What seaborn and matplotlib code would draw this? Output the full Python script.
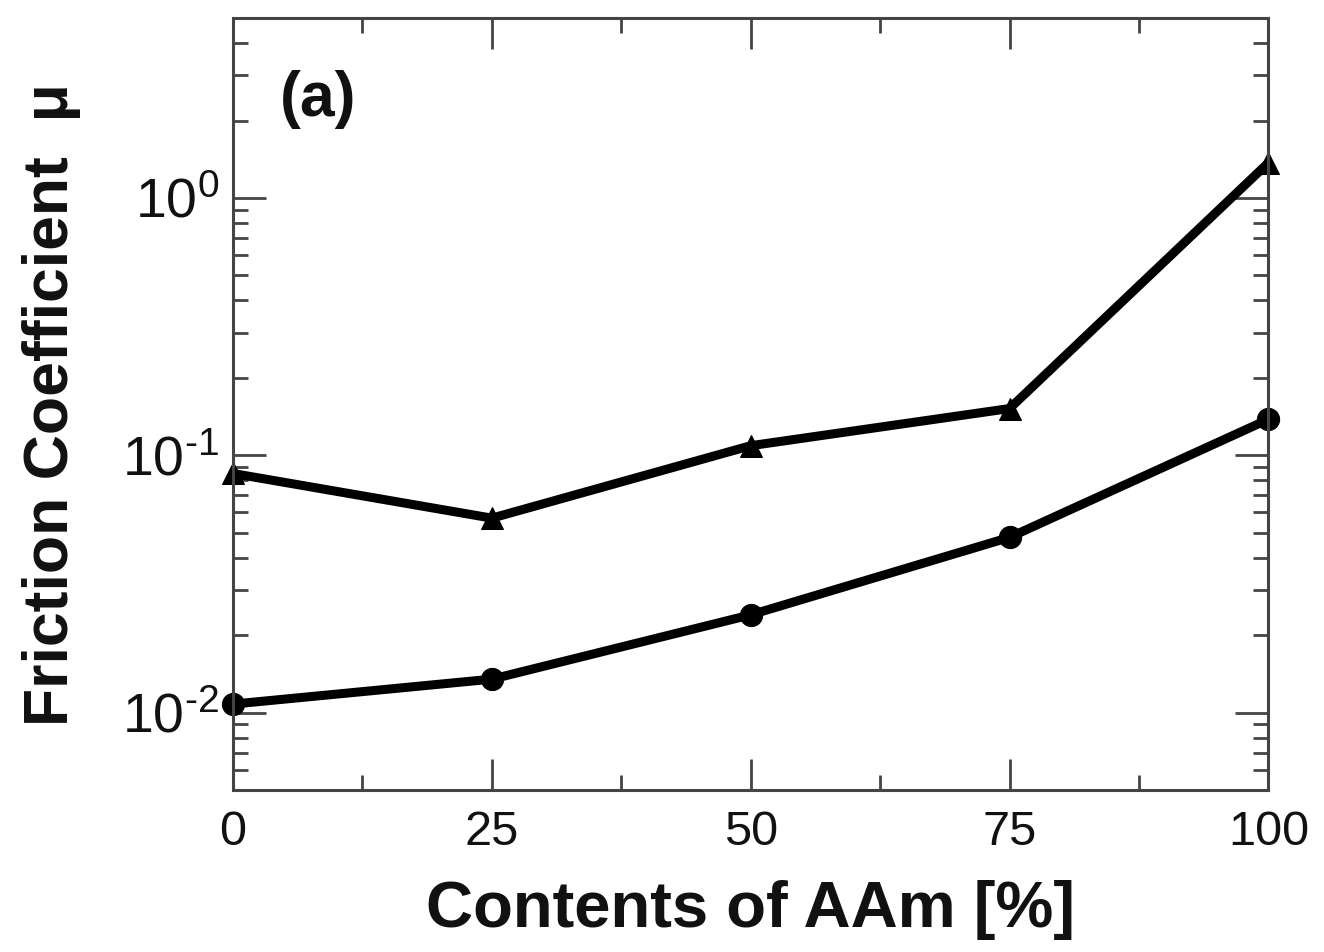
import numpy as np
import pandas as pd
import matplotlib
matplotlib.use("Agg")
import matplotlib.pyplot as plt
import matplotlib.ticker as mticker
import seaborn as sns

contents = [0, 25, 50, 75, 100]
mu_triangle = [0.085, 0.057, 0.109, 0.152, 1.37]
mu_circle = [0.0108, 0.0135, 0.024, 0.048, 0.138]
series_names = ["triangle", "circle"]
x_ticks = [0, 25, 50, 75, 100]

sns.set_style("ticks")
plt.rcParams['font.family'] = ['Liberation Sans', 'DejaVu Sans']
plt.rcParams['mathtext.fontset'] = 'custom'
plt.rcParams['mathtext.rm'] = 'Liberation Sans'
plt.rcParams['axes.unicode_minus'] = False
plt.rcParams['text.color'] = '#111111'
plt.rcParams['axes.labelcolor'] = '#111111'

df = pd.DataFrame({
    "x": contents * 2,
    "mu": mu_triangle + mu_circle,
    "series": [series_names[0]] * 5 + [series_names[1]] * 5,
})

fig = plt.figure(figsize=(13.24, 9.52), dpi=100)
ax = fig.add_axes([0.176, 0.170, 0.782, 0.811])

sns.lineplot(data=df, x="x", y="mu", style="series", hue="series",
             palette={"triangle": "black", "circle": "black"},
             markers={"triangle": "^", "circle": "o"},
             dashes=False, markersize=16, linewidth=6.5,
             markeredgecolor="black", legend=False, ax=ax, clip_on=False)

ax.set_yscale("log")
ax.set_ylim(0.005, 5)
ax.set_xlim(0, 100)
ax.set_xticks(x_ticks)
ax.xaxis.set_minor_locator(mticker.MultipleLocator(12.5))
ax.yaxis.set_major_locator(mticker.LogLocator(base=10, numticks=10))
ax.yaxis.set_minor_locator(mticker.LogLocator(base=10, subs=np.arange(2, 10), numticks=20))
ax.yaxis.set_major_formatter(mticker.FuncFormatter(
    lambda v, p: r"$\mathregular{10^{\text{%d}}}$" % int(round(np.log10(v)))))
ax.yaxis.set_minor_formatter(mticker.NullFormatter())

spine_col = "#444444"
for s in ax.spines.values():
    s.set_color(spine_col)
    s.set_linewidth(2.2)

ax.tick_params(which="both", direction="in", top=True, right=True,
               color=spine_col, width=2, labelsize=35, labelcolor="#111111")
ax.tick_params(which="major", length=22, pad=14)
ax.tick_params(which="minor", length=11)
ax.tick_params(axis="y", which="major", length=24, labelsize=40, pad=10)

ax.set_xlabel("Contents of AAm [%]", fontsize=47, fontweight="bold", labelpad=18)
ax.set_ylabel("Friction Coefficient  μ", fontsize=45, fontweight="bold", labelpad=30)

ax.text(0.045, 0.895, "(a)", transform=ax.transAxes, fontsize=45,
        fontweight="bold", ha="left", va="center", color="#111111")

fig.savefig("out.png", dpi=100, facecolor="white")
